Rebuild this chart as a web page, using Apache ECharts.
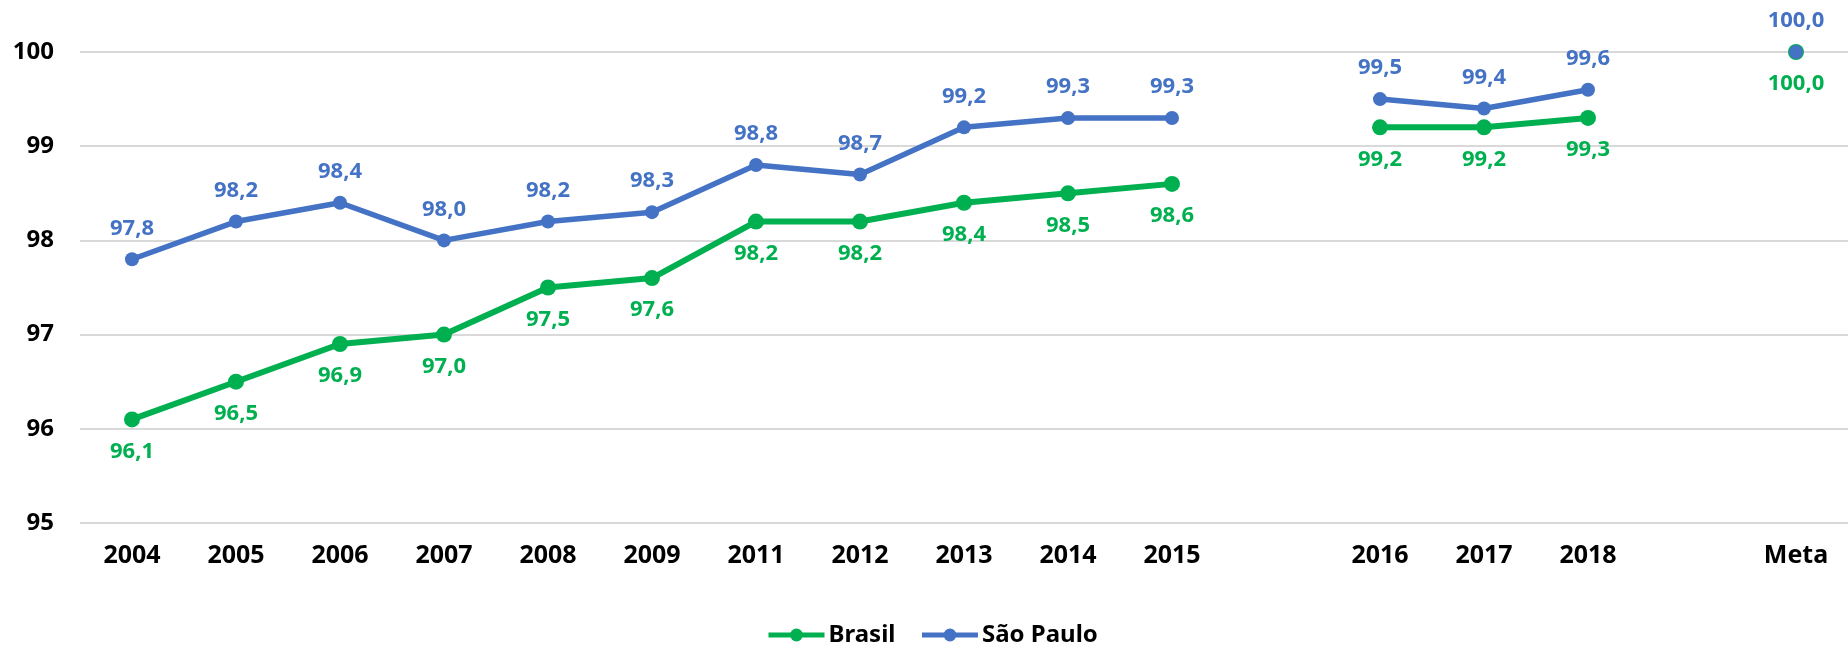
<!DOCTYPE html>
<html>
<head>
<meta charset="utf-8">
<script src="https://cdn.jsdelivr.net/npm/echarts@6/dist/echarts.min.js"></script>
<style>
html,body{margin:0;padding:0;background:#fff;}
#c{width:1848px;height:649px;}
</style>
</head>
<body>
<div id="c"></div>
<script>
const categories = ['2004','2005','2006','2007','2008','2009','2011','2012','2013','2014','2015','','2016','2017','2018','','Meta'];
const brasil = [96.1,96.5,96.9,97.0,97.5,97.6,98.2,98.2,98.4,98.5,98.6,null,99.2,99.2,99.3,null,100.0];
const saoPaulo = [97.8,98.2,98.4,98.0,98.2,98.3,98.8,98.7,99.2,99.3,99.3,null,99.5,99.4,99.6,null,100.0];
const yTicks = [95,96,97,98,99,100];

const FONT = '"Noto Sans", sans-serif';
const GREEN = '#00B050';
const BLUE = '#4472C4';
const fmt = p => p.value == null ? '' : Number(p.value).toFixed(1).replace('.', ',');

const chart = echarts.init(document.getElementById('c'), null, {renderer: 'canvas'});
chart.setOption({
  animation: false,
  grid: {left: 80, top: 52, width: 1785, bottom: 126, containLabel: false},
  legend: {
    top: 623,
    left: 766,
    itemWidth: 56,
    itemHeight: 16,
    itemGap: 24,
    padding: 0,
    lineStyle: {width: 5},
    textStyle: {fontFamily: FONT, fontWeight: 'bold', fontSize: 24, color: '#000', padding: [0, 0, 0, -1]},
    data: ['Brasil', 'São Paulo']
  },
  xAxis: {
    type: 'category',
    data: categories,
    boundaryGap: true,
    axisLine: {show: false},
    axisTick: {show: false},
    axisLabel: {fontFamily: FONT, fontWeight: 'bold', fontSize: 25, color: '#000', margin: 20, interval: 0}
  },
  yAxis: {
    type: 'value',
    min: yTicks[0],
    max: yTicks[yTicks.length - 1],
    interval: 1,
    axisLine: {show: false},
    axisTick: {show: false},
    splitLine: {lineStyle: {color: '#D9D9D9', width: 2}},
    axisLabel: {fontFamily: FONT, fontWeight: 'bold', fontSize: 24, color: '#000', margin: 26}
  },
  series: [
    {
      name: 'Brasil',
      type: 'line',
      data: brasil,
      connectNulls: false,
      symbol: 'circle',
      symbolSize: 16,
      itemStyle: {color: GREEN},
      lineStyle: {color: GREEN, width: 6},
      label: {show: true, position: 'bottom', distance: 13, formatter: fmt, color: GREEN, fontFamily: FONT, fontWeight: 'bold', fontSize: 22},
      z: 2
    },
    {
      name: 'São Paulo',
      type: 'line',
      data: saoPaulo,
      connectNulls: false,
      symbol: 'circle',
      symbolSize: 14,
      itemStyle: {color: BLUE},
      lineStyle: {color: BLUE, width: 5.5},
      label: {show: true, position: 'top', distance: 13, formatter: fmt, color: BLUE, fontFamily: FONT, fontWeight: 'bold', fontSize: 22},
      z: 3
    }
  ]
});
</script>
</body>
</html>
